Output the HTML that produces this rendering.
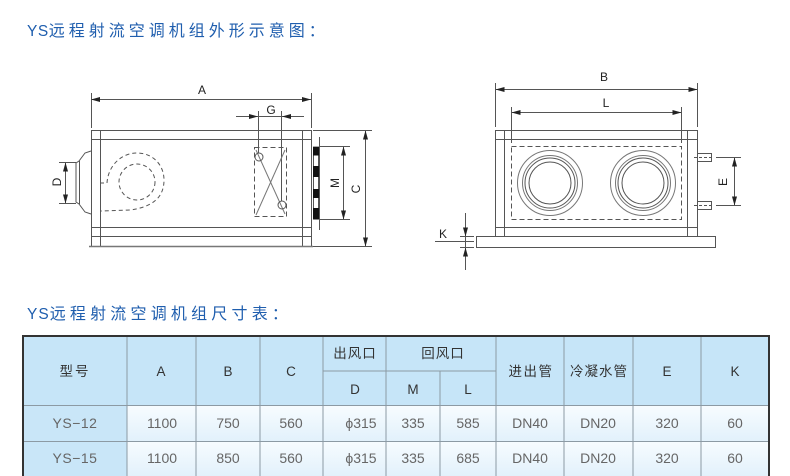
<!DOCTYPE html>
<html>
<head>
<meta charset="utf-8">
<style>
html,body{margin:0;padding:0;background:#fff;}
svg{display:block;}
.t{font-family:"Liberation Sans","Noto Sans CJK SC",sans-serif;}
</style>
</head>
<body>
<svg width="790" height="476" viewBox="0 0 790 476" xmlns="http://www.w3.org/2000/svg">
<defs>
<linearGradient id="dg" x1="0" y1="0" x2="0" y2="1">
<stop offset="0" stop-color="#f7fcff"/>
<stop offset="1" stop-color="#e2f1fb"/>
</linearGradient>
</defs>
<rect width="790" height="476" fill="#fff"/>

<!-- Titles -->
<text class="t" x="27" y="36" font-size="16" fill="#1f5eae"><tspan letter-spacing="0.5" font-size="15.5">YS</tspan><tspan letter-spacing="4">远程射流空调机组外形示意图：</tspan></text>
<text class="t" x="27" y="319" font-size="16" fill="#1f5eae"><tspan letter-spacing="1" font-size="15.5">YS</tspan><tspan letter-spacing="4.2">远程射流空调机组尺寸表：</tspan></text>

<!-- LEFT VIEW -->
<g fill="none" stroke="#555" stroke-width="1">
  <!-- A dim -->
  <line x1="91.5" y1="93" x2="91.5" y2="128"/>
  <line x1="311.5" y1="93" x2="311.5" y2="128"/>
  <line x1="91" y1="99.5" x2="311" y2="99.5"/>
  <!-- G dim -->
  <line x1="258.5" y1="111" x2="258.5" y2="153"/>
  <line x1="281.5" y1="111" x2="281.5" y2="201"/>
  <line x1="236" y1="116.5" x2="304" y2="116.5"/>
  <!-- box -->
  <rect x="91.5" y="130.5" width="220" height="106"/>
  <line x1="91" y1="139.5" x2="311" y2="139.5"/>
  <line x1="91" y1="227.5" x2="311" y2="227.5"/>
  <line x1="100.5" y1="130" x2="100.5" y2="237"/>
  <line x1="302.5" y1="130" x2="302.5" y2="237"/>
  <!-- feet -->
  <line x1="91.5" y1="236" x2="91.5" y2="247"/>
  <line x1="100.5" y1="236" x2="100.5" y2="247"/>
  <line x1="302.5" y1="236" x2="302.5" y2="247"/>
  <line x1="311.5" y1="236" x2="311.5" y2="247"/>
  <line x1="89" y1="246.5" x2="313" y2="246.5" stroke="#777" stroke-width="1.4"/>
  <!-- cone -->
  <path d="M91,151 L85,153 L79,161 L76,163 L76,202 L79,204 L85,212 L91,214"/>
  <line x1="79.5" y1="161" x2="79.5" y2="204"/>
  <!-- D dim -->
  <line x1="59" y1="162.5" x2="76" y2="162.5"/>
  <line x1="59" y1="203.5" x2="76" y2="203.5"/>
  <line x1="65.5" y1="162" x2="65.5" y2="204"/>
  <!-- scroll dashed -->
  <path d="M100,183 L107,183 C108,166 121,153 137,153 C153,153 164,165 164,180 C164,198 152,207 130,210 L100,211" stroke-dasharray="4 3"/>
  <circle cx="137" cy="182" r="18" stroke-dasharray="4 3"/>
  <!-- damper -->
  <rect x="254.5" y="147.5" width="32" height="69" stroke-dasharray="5 3"/>
  <line x1="256" y1="150" x2="285" y2="214" stroke="#777"/>
  <line x1="285" y1="150" x2="256" y2="215" stroke="#777"/>
  <circle cx="259" cy="157" r="4"/>
  <circle cx="282" cy="205" r="4"/>
  <!-- flange -->
  <line x1="319.5" y1="137" x2="319.5" y2="230"/>
  <rect x="313.5" y="147" width="5" height="72"/>
  <!-- M dim -->
  <line x1="320" y1="146.5" x2="350" y2="146.5"/>
  <line x1="320" y1="219.5" x2="350" y2="219.5"/>
  <line x1="343.5" y1="146" x2="343.5" y2="220"/>
  <!-- C dim -->
  <line x1="313" y1="130.5" x2="372" y2="130.5"/>
  <line x1="313" y1="246.5" x2="372" y2="246.5"/>
  <line x1="365.5" y1="130" x2="365.5" y2="247"/>
</g>
<g fill="#111">
  <rect x="313" y="147" width="6" height="8.5"/>
  <rect x="313" y="166" width="6" height="11"/>
  <rect x="313" y="189" width="6" height="9"/>
  <rect x="313" y="208" width="6" height="11.5"/>
</g>
<g fill="#222">
  <polygon points="91,99.5 100,97 100,102"/>
  <polygon points="311,99.5 302,97 302,102"/>
  <polygon points="258,116.5 249,114 249,119"/>
  <polygon points="282,116.5 291,114 291,119"/>
  <polygon points="65.5,162.5 63,171.5 68,171.5"/>
  <polygon points="65.5,203.5 63,194.5 68,194.5"/>
  <polygon points="343.5,146.5 341,155.5 346,155.5"/>
  <polygon points="343.5,219.5 341,210.5 346,210.5"/>
  <polygon points="365.5,130.5 363,139.5 368,139.5"/>
  <polygon points="365.5,246.5 363,237.5 368,237.5"/>
</g>
<g class="t" font-size="12" fill="#222">
  <text x="202" y="94" text-anchor="middle">A</text>
  <text x="271" y="114" text-anchor="middle">G</text>
  <text x="0" y="0" text-anchor="middle" transform="translate(61,182) rotate(-90)">D</text>
  <text x="0" y="0" text-anchor="middle" transform="translate(339,183) rotate(-90)">M</text>
  <text x="0" y="0" text-anchor="middle" transform="translate(360,189) rotate(-90)">C</text>
</g>

<!-- RIGHT VIEW -->
<g fill="none" stroke="#555" stroke-width="1">
  <!-- B dim -->
  <line x1="495.5" y1="83" x2="495.5" y2="127"/>
  <line x1="697.5" y1="83" x2="697.5" y2="127"/>
  <line x1="495" y1="89.5" x2="698" y2="89.5"/>
  <!-- L dim -->
  <line x1="511.5" y1="107" x2="511.5" y2="143"/>
  <line x1="681.5" y1="107" x2="681.5" y2="143"/>
  <line x1="511" y1="112.5" x2="682" y2="112.5"/>
  <!-- box -->
  <rect x="495.5" y="130.5" width="202" height="106"/>
  <line x1="495" y1="139.5" x2="698" y2="139.5"/>
  <line x1="495" y1="227.5" x2="698" y2="227.5"/>
  <line x1="504.5" y1="130" x2="504.5" y2="237"/>
  <line x1="687.5" y1="130" x2="687.5" y2="237"/>
  <!-- plate -->
  <rect x="476.5" y="236.5" width="239" height="11"/>
  <!-- dashed rect -->
  <rect x="511.5" y="146.5" width="170" height="73" stroke-dasharray="5 3"/>
  <!-- circles -->
  <circle cx="550" cy="183" r="32.5" stroke="#777"/>
  <circle cx="550" cy="183" r="27.5" stroke="#777"/>
  <circle cx="550" cy="183" r="25"/>
  <circle cx="550" cy="183" r="21"/>
  <circle cx="643" cy="183" r="32.5" stroke="#777"/>
  <circle cx="643" cy="183" r="27.5" stroke="#777"/>
  <circle cx="643" cy="183" r="25"/>
  <circle cx="643" cy="183" r="21"/>
  <!-- pipes -->
  <rect x="697.5" y="153.5" width="14" height="8"/>
  <rect x="697.5" y="201.5" width="14" height="8"/>
  <line x1="694" y1="157.5" x2="711" y2="157.5" stroke-dasharray="3 2"/>
  <line x1="694" y1="205.5" x2="711" y2="205.5" stroke-dasharray="3 2"/>
  <!-- E dim -->
  <line x1="716" y1="157.5" x2="741" y2="157.5"/>
  <line x1="716" y1="205.5" x2="741" y2="205.5"/>
  <line x1="734.5" y1="157" x2="734.5" y2="206"/>
  <!-- K dim -->
  <line x1="465.5" y1="213" x2="465.5" y2="270"/>
  <line x1="460" y1="236.5" x2="474" y2="236.5"/>
  <line x1="460" y1="247.5" x2="474" y2="247.5"/>
  <line x1="435" y1="241.5" x2="474" y2="241.5"/>
</g>
<g fill="#222">
  <polygon points="495.5,89.5 504.5,87 504.5,92"/>
  <polygon points="697.5,89.5 688.5,87 688.5,92"/>
  <polygon points="511.5,112.5 520.5,110 520.5,115"/>
  <polygon points="681.5,112.5 672.5,110 672.5,115"/>
  <polygon points="734.5,157.5 732,166.5 737,166.5"/>
  <polygon points="734.5,205.5 732,196.5 737,196.5"/>
  <polygon points="465.5,236.5 463,227.5 468,227.5"/>
  <polygon points="465.5,247.5 463,256.5 468,256.5"/>
</g>
<g class="t" font-size="12" fill="#222">
  <text x="604" y="81" text-anchor="middle">B</text>
  <text x="606" y="107" text-anchor="middle">L</text>
  <text x="443" y="238" text-anchor="middle">K</text>
  <text x="0" y="0" text-anchor="middle" transform="translate(727,182) rotate(-90)">E</text>
</g>

<!-- TABLE -->
<rect x="22" y="335" width="748" height="71" fill="#c6e5f8"/>
<rect x="22" y="406" width="105" height="70" fill="#c9e6f8"/>
<rect x="127" y="406" width="643" height="35" fill="url(#dg)"/>
<rect x="127" y="441" width="643" height="35" fill="url(#dg)"/>
<g stroke="#8c9aa4" stroke-width="1" fill="none">
  <line x1="22" y1="405.5" x2="770" y2="405.5"/>
  <line x1="22" y1="441.5" x2="770" y2="441.5"/>
  <line x1="323" y1="371" x2="496" y2="371"/>
  <line x1="127" y1="336" x2="127" y2="476"/>
  <line x1="196" y1="336" x2="196" y2="476"/>
  <line x1="260" y1="336" x2="260" y2="476"/>
  <line x1="323" y1="336" x2="323" y2="476"/>
  <line x1="386" y1="336" x2="386" y2="476"/>
  <line x1="440" y1="371" x2="440" y2="476"/>
  <line x1="496" y1="336" x2="496" y2="476"/>
  <line x1="564" y1="336" x2="564" y2="476"/>
  <line x1="633" y1="336" x2="633" y2="476"/>
  <line x1="701" y1="336" x2="701" y2="476"/>
</g>
<g fill="#333">
  <rect x="22" y="335" width="748" height="2"/>
  <rect x="22" y="335" width="2" height="141"/>
  <rect x="768" y="335" width="2" height="141"/>
</g>
<g class="t" font-size="13.5" fill="#333" text-anchor="middle">
  <text x="75" y="376" letter-spacing="2">型号</text>
  <text x="161" y="376">A</text>
  <text x="228" y="376">B</text>
  <text x="291" y="376">C</text>
  <text x="355" y="358" letter-spacing="1">出风口</text>
  <text x="443" y="358" letter-spacing="1">回风口</text>
  <text x="355" y="394">D</text>
  <text x="413" y="394">M</text>
  <text x="468" y="394">L</text>
  <text x="531" y="376" letter-spacing="1.5">进出管</text>
  <text x="599" y="376" letter-spacing="1">冷凝水管</text>
  <text x="667" y="376">E</text>
  <text x="735" y="376">K</text>
</g>
<g class="t" font-size="14" fill="#666" text-anchor="middle">
  <text x="75" y="428" letter-spacing="0.5">YS−12</text>
  <text x="162" y="428">1100</text>
  <text x="228" y="428">750</text>
  <text x="291" y="428">560</text>
  <text x="361" y="428">ϕ315</text>
  <text x="413" y="428">335</text>
  <text x="468" y="428">585</text>
  <text x="530" y="428">DN40</text>
  <text x="598" y="428">DN20</text>
  <text x="667" y="428">320</text>
  <text x="735" y="428">60</text>

  <text x="75" y="463" letter-spacing="0.5">YS−15</text>
  <text x="162" y="463">1100</text>
  <text x="228" y="463">850</text>
  <text x="291" y="463">560</text>
  <text x="361" y="463">ϕ315</text>
  <text x="413" y="463">335</text>
  <text x="468" y="463">685</text>
  <text x="530" y="463">DN40</text>
  <text x="598" y="463">DN20</text>
  <text x="667" y="463">320</text>
  <text x="735" y="463">60</text>
</g>
</svg>
</body>
</html>
